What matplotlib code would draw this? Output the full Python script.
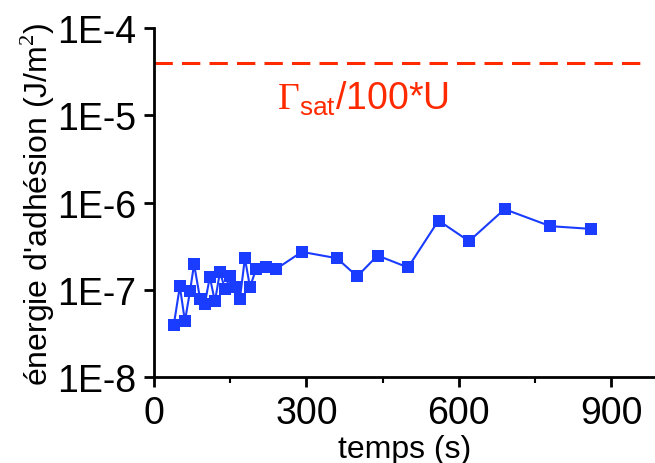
import matplotlib
matplotlib.use("Agg")
import matplotlib.pyplot as plt
from matplotlib.ticker import FixedLocator, NullFormatter, LogLocator

plt.rcParams['font.family'] = ['Liberation Sans', 'DejaVu Sans']
plt.rcParams['mathtext.fontset'] = 'custom'
plt.rcParams['mathtext.rm'] = 'Liberation Serif'
plt.rcParams['mathtext.sf'] = 'Liberation Sans'

temps = [39, 51, 61, 71, 79, 91, 100, 110, 120, 130, 140, 150, 160, 169,
         179, 189, 201, 221, 240, 291, 360, 400, 440, 500, 560, 620, 690,
         780, 860]
energie = [3.94e-8, 1.10e-7, 4.38e-8, 9.7e-8, 1.97e-7, 7.8e-8, 6.9e-8,
           1.40e-7, 7.4e-8, 1.60e-7, 1.02e-7, 1.44e-7, 1.08e-7, 7.8e-8,
           2.31e-7, 1.08e-7, 1.73e-7, 1.82e-7, 1.73e-7, 2.73e-7, 2.31e-7,
           1.43e-7, 2.48e-7, 1.81e-7, 6.25e-7, 3.62e-7, 8.43e-7, 5.38e-7,
           5.01e-7]
gamma_sat = 4e-5
x_ticks = [0, 300, 600, 900]
y_ticks = [1e-8, 1e-7, 1e-6, 1e-5, 1e-4]
y_labels = ['1E-8', '1E-7', '1E-6', '1E-5', '1E-4']

fig = plt.figure(figsize=(6.55, 4.64), dpi=100)
ax = fig.add_axes([0.235, 0.185, 0.765, 0.752])

ax.plot(temps, energie, color='#1a3cff', marker='s', markersize=9,
        linewidth=1.5, markeredgewidth=0)
ax.plot([0, 957], [gamma_sat, gamma_sat], color='#ff2a00', linewidth=2.2,
        dashes=(6, 3))
ax.text(0.245, 0.80, r'$\Gamma_{\mathsf{sat}}$/100*U', transform=ax.transAxes,
        color='#ff2a00', fontsize=27, va='center', ha='left')

ax.set_yscale('log')
ax.set_ylim(1e-8, 1e-4)
ax.set_xlim(0, 986)
ax.set_yticks(y_ticks)
ax.set_yticklabels(y_labels)
ax.yaxis.set_minor_locator(LogLocator(base=10, subs=range(2, 10)))
ax.yaxis.set_minor_formatter(NullFormatter())
ax.set_xticks(x_ticks)
ax.xaxis.set_minor_locator(FixedLocator([150, 450, 750]))

ax.spines['top'].set_visible(False)
ax.spines['right'].set_visible(False)
ax.spines['left'].set_linewidth(2)
ax.spines['bottom'].set_linewidth(2)
ax.tick_params(which='major', direction='out', length=7, width=2,
               labelsize=27, pad=6)
ax.tick_params(which='minor', direction='out', length=4, width=1.5)

ax.set_xlabel('temps (s)', fontsize=23, labelpad=2)
ax.set_ylabel("énergie d'adhésion (J/m$^2$)", fontsize=23, labelpad=0)

fig.savefig('out.png', dpi=100)
